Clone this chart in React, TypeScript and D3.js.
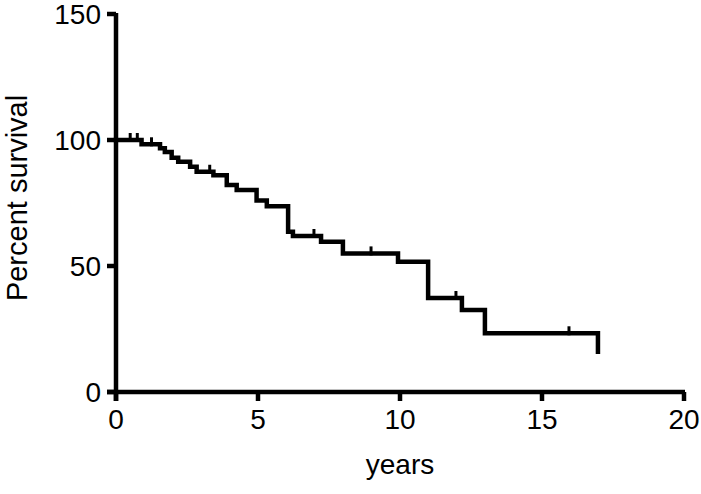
import React from "react";
import * as d3 from "d3";

const eventTimes = [0, 0.9, 1.55, 1.72, 1.96, 2.19, 2.61, 2.84, 3.43, 3.9, 4.25, 4.95, 5.31, 6.06, 6.23, 7.22, 7.99, 9.93, 10.99, 12.18, 12.99, 16.97];
const survival = [100, 98.3, 96.7, 95.2, 93, 91.4, 89.4, 87.4, 86, 82.1, 80.2, 76, 73.7, 63.6, 61.9, 59.6, 55, 51.7, 37.3, 32.5, 23.3, 16];
const censorTimes = [0.5, 0.75, 1.25, 3.3, 6.97, 8.98, 11.97, 15.95];
const xTicks = [0, 5, 10, 15, 20];
const yTicks = [0, 50, 100, 150];

const W = 701, H = 494;

export default function App() {
  const x = d3.scaleLinear().domain([0, 20]).range([116, 684]);
  const y = d3.scaleLinear().domain([0, 150]).range([392, 14]);

  const pts: [number, number][] = eventTimes.map((t, i) => [x(t), y(survival[i])]);
  const line = d3.line().curve(d3.curveStepAfter);
  const path = line(pts) as string;

  const survAt = (t: number) => {
    let s = survival[0];
    for (let i = 0; i < eventTimes.length; i++) if (eventTimes[i] <= t) s = survival[i];
    return s;
  };

  const font = "'Liberation Sans', Arial, sans-serif";
  const sw = 4.5;
  return (
    <svg width={W} height={H} style={{ position: "absolute", left: 0, top: 0, background: "#fff" }}>
      <rect width={W} height={H} fill="#fff" />
      <line x1={x(0)} x2={x(0)} y1={y(150) - 1} y2={y(0) + 9} stroke="#000" strokeWidth={sw} />
      <line x1={x(0) - 9} x2={x(20) + 1} y1={y(0)} y2={y(0)} stroke="#000" strokeWidth={sw} />
      {yTicks.map((v) => (
        <g key={"y" + v}>
          <line x1={x(0) - 9} x2={x(0)} y1={y(v)} y2={y(v)} stroke="#000" strokeWidth={sw} />
          <text x={x(0) - 15} y={y(v)} dy="0.36em" textAnchor="end" fontFamily={font} fontSize={28}>{v}</text>
        </g>
      ))}
      {xTicks.map((v) => (
        <g key={"x" + v}>
          <line x1={x(v)} x2={x(v)} y1={y(0)} y2={y(0) + 9} stroke="#000" strokeWidth={sw} />
          <text x={x(v)} y={y(0) + 37} textAnchor="middle" fontFamily={font} fontSize={28}>{v}</text>
        </g>
      ))}
      <text x={x(10)} y={474} textAnchor="middle" fontFamily={font} fontSize={28}>years</text>
      <text transform={`translate(27,${y(77)}) rotate(-90)`} textAnchor="middle" fontFamily={font} fontSize={29}>Percent survival</text>
      <path d={path} fill="none" stroke="#000" strokeWidth={sw} strokeLinejoin="miter" strokeLinecap="square" />
      {censorTimes.map((t, i) => (
        <line key={"c" + i} x1={x(t)} x2={x(t)} y1={y(survAt(t)) - 7} y2={y(survAt(t)) + 2} stroke="#000" strokeWidth={3} />
      ))}
    </svg>
  );
}
